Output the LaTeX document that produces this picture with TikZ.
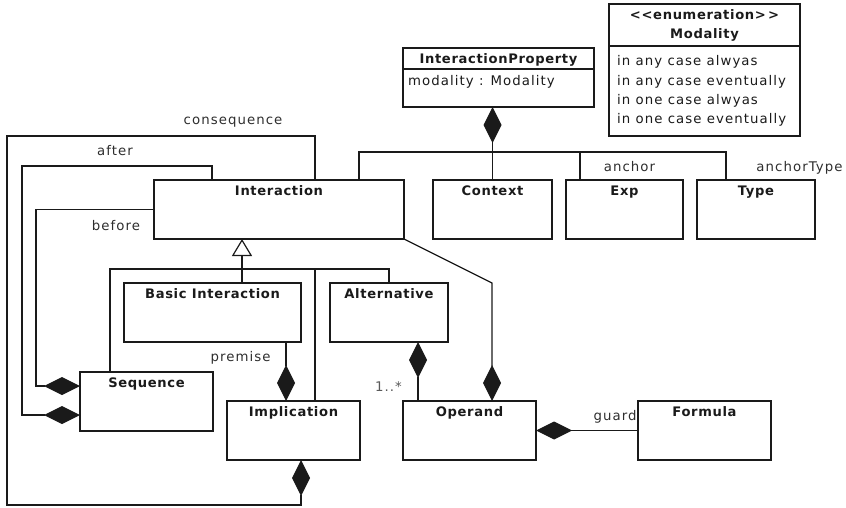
\documentclass[tikz,border=0pt]{standalone}
\usepackage{fontspec}
\setmainfont{DejaVu Sans}[LetterSpace=8, BoldFeatures={LetterSpace=5}]
\usetikzlibrary{arrows.meta}
\definecolor{ink}{HTML}{1A1A1A}
\definecolor{lblc}{HTML}{2E2E2E}
\newcommand\umlcls[5]{%
  \node[box,minimum width=#4pt] (#1) at (#2,#3) {};
  \node[ttl] (#1-t) at ([yshift=-15.5pt]#1.north) {#5};}
\begin{document}
\begin{tikzpicture}[x=1pt,y=-1pt,
  every node/.style={font=\fontsize{13.3}{15}\selectfont, text=ink},
  box/.style={draw=ink, line width=1.4pt, minimum height=59pt, inner sep=0pt, outer sep=0pt},
  ttl/.style={font=\fontsize{13.1}{15}\selectfont\bfseries, anchor=base, inner sep=0pt},
  lbl/.style={anchor=base, inner sep=0pt, text=lblc},
  txt/.style={anchor=base west, inner sep=0pt},
  conn/.style={draw=ink, line width=1.2pt},
  comp/.style={conn, {Diamond[length=36pt,width=18pt,fill=ink]}-},
  gen/.style={conn, -{Triangle[length=17pt,width=20pt,fill=white]}},
]
\useasboundingbox (0,0) rectangle (846,508);

% classes
\umlcls{int}{279}{209.5}{250}{Interaction}
\umlcls{ctx}{492.5}{209.5}{119}{Context}
\umlcls{exp}{624.5}{209.5}{117}{Exp}
\umlcls{typ}{756}{209.5}{118}{Type}
\umlcls{bas}{212.5}{312.5}{177}{Basic Interaction}
\umlcls{alt}{389}{312.5}{118}{Alternative}
\umlcls{seq}{146.5}{401.5}{133}{Sequence}
\umlcls{imp}{293.5}{430.5}{133}{Implication}
\umlcls{opd}{469.5}{430.5}{133}{Operand}
\umlcls{frm}{704.5}{430.5}{133}{Formula}

% InteractionProperty
\node[box,minimum width=191pt] (ip) at (498.5,77.5) {};
\draw[conn,line width=1.4pt] ([yshift=-21pt]ip.north west) -- ([yshift=-21pt]ip.north east);
\node[ttl] (ip-t) at (498.5,63.5) {InteractionProperty};
\node[txt] (ip-a) at (408,86) {modality : Modality};

% Modality enumeration
\node[box,minimum width=191pt,minimum height=132pt] (mod) at (704.5,70) {};
\draw[conn,line width=1.4pt] ([yshift=-42pt]mod.north west) -- ([yshift=-42pt]mod.north east);
\node[ttl] (mod-s) at (704.5,20) {<{}<enumeration>{}\,>};
\node[ttl] (mod-t) at (704.5,38.5) {Modality};
\node[txt] (mod-1) at (617,66) {in any case alwyas};
\node[txt] (mod-2) at (617,85.3) {in any case eventually};
\node[txt] (mod-3) at (617,104.6) {in one case alwyas};
\node[txt] (mod-4) at (617,124) {in one case eventually};

% generalization
\draw[gen] ([xshift=29.5pt]bas.north) -- ([xshift=-37pt]int.south);
\draw[conn] ([xshift=-36.5pt]seq.north) |- ([yshift=14pt]alt.north) -- (alt.north);
\draw[conn] ([xshift=21.5pt]imp.north) -- ++(0,-132);

% compositions
\draw[comp] ([xshift=7.5pt]imp.south) -- ++(0,45) -| (7,136) -| ([xshift=36pt]int.north);
\draw[comp] ([yshift=-13.5pt]seq.west) -| (22,166) -| ([xshift=-67pt]int.north);
\draw[comp] ([yshift=15.5pt]seq.west) -| (36,209.5) -- (int.west);
\draw[comp] ([xshift=-7.5pt]imp.north) -- ([xshift=73.5pt]bas.south);
\draw[comp] ([xshift=29pt]alt.south) -- ([xshift=-51.5pt]opd.north);
\draw[comp] ([xshift=22.5pt]opd.north) -- (492,283) -- (int.south east);
\draw[comp] (opd.east) -- (frm.west);

% InteractionProperty composition
\draw[comp] ([xshift=-6pt]ip.south) -- (ctx.north);
\draw[conn] ([xshift=80pt]int.north) |- ([shift={(-30pt,28pt)}]typ.north) -- ([xshift=-30pt]typ.north);
\draw[conn] ([xshift=-44.5pt]exp.north) -- ++(0,-28);

% role labels
\node[lbl] (l-cons) at (233,125) {consequence};
\node[lbl] (l-after) at (115,156) {after};
\node[lbl] (l-before) at (116,230.5) {before};
\node[lbl] (l-prem) at (240.5,361) {premise};
\node[lbl,text=black!65] (l-mult) at (388.5,391.5) {1..*};
\node[lbl] (l-guard) at (615,420.5) {guard};
\node[lbl] (l-anchor) at (629.5,171.5) {anchor};
\node[lbl] (l-atype) at (799.5,171.5) {anchorType};
\end{tikzpicture}
\end{document}
